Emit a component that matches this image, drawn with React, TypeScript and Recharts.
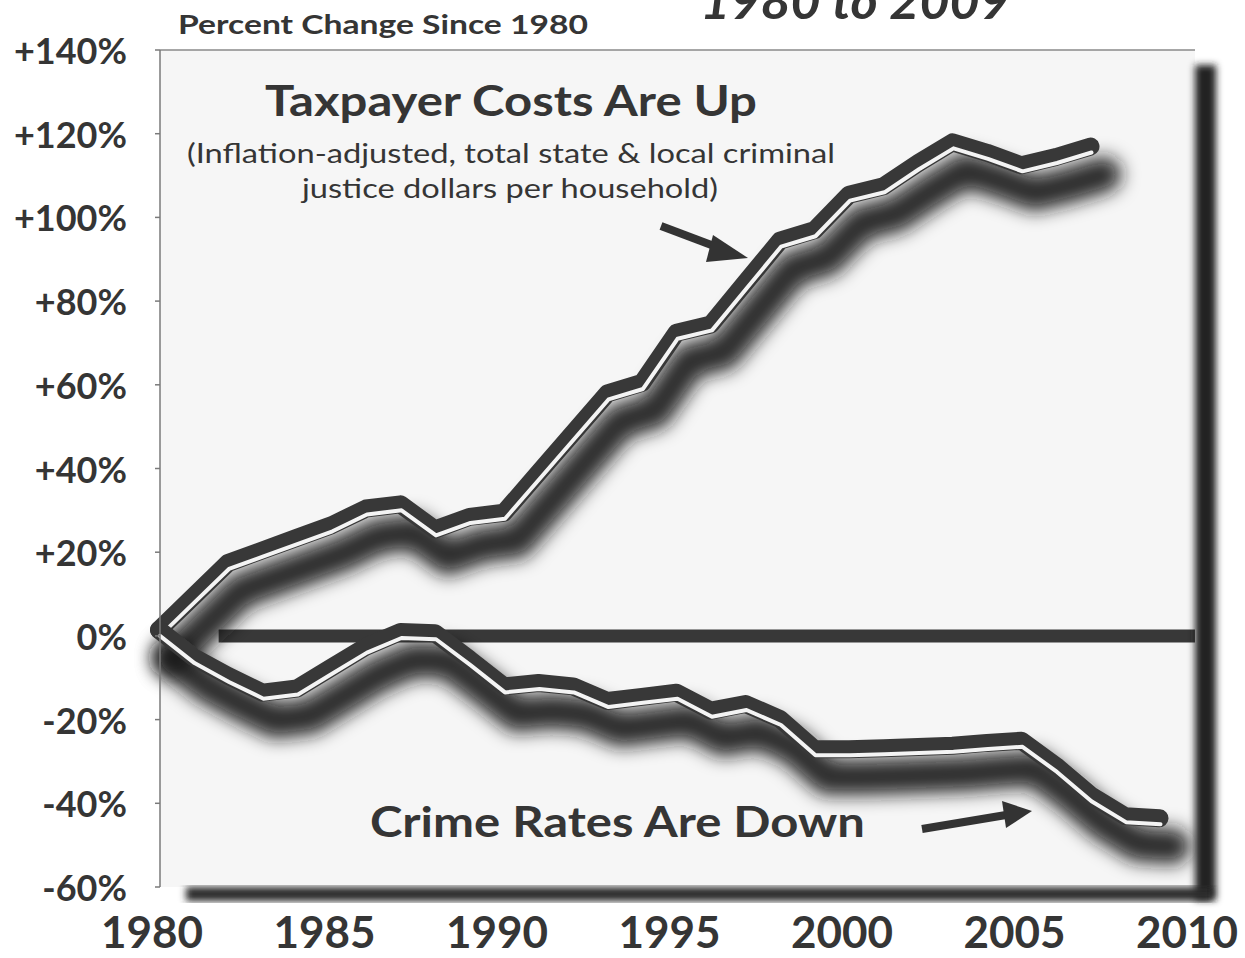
import React from "react";
import {
  LineChart,
  Line,
  XAxis,
  YAxis,
  CartesianGrid,
  ReferenceLine,
} from "recharts";

const years = [
  1980, 1981, 1982, 1983, 1984, 1985, 1986, 1987, 1988, 1989, 1990, 1991,
  1992, 1993, 1994, 1995, 1996, 1997, 1998, 1999, 2000, 2001, 2002, 2003,
  2004, 2005, 2006, 2007, 2008, 2009,
];

// taxpayer criminal justice costs, % change since 1980 (ends 2007)
const costs = [
  0, 8, 16, 19, 22, 25, 29, 30, 24, 27, 28, 37.5, 47, 56.5, 59, 71, 73, 83,
  93, 95.5, 104, 106, 111.5, 116.5, 114, 111, 113, 115.5,
];

// crime rates, % change since 1980
const crime = [
  0, -6.5, -11, -15, -14, -9, -4, -0.5, -0.8, -7, -13.5, -12.7, -13.5, -17,
  -16, -15, -19.3, -17.7, -21.3, -28.5, -28.5, -28.3, -28, -27.7, -27, -26.5,
  -32.5, -39.5, -44.5, -45,
];

const yTicks = [-60, -40, -20, 0, 20, 40, 60, 80, 100, 120, 140];
const xTicks = [1980, 1985, 1990, 1995, 2000, 2005, 2010];

const data = years.map((year, i) => ({
  year,
  cost: i < costs.length ? costs[i] : null,
  crime: crime[i],
}));

const FONT = "Lato, 'Open Sans', sans-serif";
const INK = "#353535";

const fmtPct = (v: number) => (v > 0 ? `+${v}%` : `${v}%`);

function YTick({ x, y, payload }: any) {
  return (
    <text x={x} y={y} dy={14} textAnchor="end" fill={INK} fontSize={36} fontWeight={700} fontFamily={FONT}>
      {fmtPct(payload.value)}
    </text>
  );
}

function XTick({ x, y, payload }: any) {
  return (
    <text x={x - 8} y={y + 61} textAnchor="middle" fill={INK} fontSize={44} fontWeight={700} fontFamily={FONT}>
      {payload.value}
    </text>
  );
}

function seriesLayers(key: string) {
  return [
    <Line
      key={key + "-shadow"}
      dataKey={key}
      type="linear"
      stroke="#1a1a1a"
      strokeWidth={36}
      strokeOpacity={0.9}
      strokeLinecap="round"
      strokeLinejoin="round"
      filter="url(#lineBlur)"
      transform="translate(12,22)"
      dot={false}
      activeDot={false}
      isAnimationActive={false}
    />,
    <Line
      key={key + "-band"}
      dataKey={key}
      type="linear"
      stroke="#383838"
      strokeWidth={18}
      strokeLinecap="round"
      strokeLinejoin="round"
      transform="translate(-1,-6)"
      dot={false}
      activeDot={false}
      isAnimationActive={false}
    />,
    <Line
      key={key + "-core"}
      dataKey={key}
      type="linear"
      stroke="#f4f4f4"
      strokeWidth={4}
      strokeLinecap="round"
      strokeLinejoin="round"
      dot={false}
      activeDot={false}
      isAnimationActive={false}
    />,
  ];
}

export default function App() {
  return (
    <div style={{ position: "absolute", left: 0, top: 0, width: 1245, height: 958, background: "#fff" }}>
      <LineChart
        width={1245}
        height={958}
        data={data}
        margin={{ top: 50, right: 50, bottom: 11, left: 20 }}
      >
        <defs>
          <filter id="lineBlur" x="-20%" y="-40%" width="140%" height="180%">
            <feGaussianBlur stdDeviation="9" />
          </filter>
        </defs>
        <CartesianGrid horizontal={false} vertical={false} fill="#f6f6f6" />
        <XAxis
          dataKey="year"
          type="number"
          domain={[1980, 2010]}
          ticks={xTicks}
          axisLine={false}
          tickLine={false}
          tickSize={0}
          tickMargin={0}
          height={60}
          tick={<XTick />}
          interval={0}
        />
        <YAxis
          type="number"
          domain={[-60, 140]}
          ticks={yTicks}
          width={140}
          axisLine={{ stroke: "#7a7a7a", strokeWidth: 1.5 }}
          tickLine={{ stroke: "#7a7a7a", strokeWidth: 1.5 }}
          tickSize={5}
          tickMargin={28}
          tick={<YTick />}
          interval={0}
        />
        <ReferenceLine y={140} stroke="#8a8a8a" strokeWidth={1.5} />
        <ReferenceLine
          segment={[
            { x: 1981.7, y: 0 },
            { x: 2010, y: 0 },
          ]}
          stroke="#383838"
          strokeWidth={13}
        />
        {seriesLayers("cost")}
        {seriesLayers("crime")}
      </LineChart>

      <svg
        width={1245}
        height={958}
        style={{ position: "absolute", left: 0, top: 0, pointerEvents: "none" }}
      >
        <defs>
          <filter id="edgeBlur" x="-50%" y="-10%" width="200%" height="120%">
            <feGaussianBlur stdDeviation="3.5" />
          </filter>
        </defs>
        {/* frame shadows */}
        <rect x={1195} y={65} width={21} height={835} fill="#242424" filter="url(#edgeBlur)" />
        <rect x={186} y={887} width={1026} height={14} fill="#2a2a2a" filter="url(#edgeBlur)" />

        {/* titles (the big one is cut by the top edge, as in the source) */}
        <text x={700} y={19} fill={INK} fontSize={50} fontWeight={700} fontStyle="italic" fontFamily={FONT} textLength={310} lengthAdjust="spacingAndGlyphs">
          1980 to 2009
        </text>
        <text x={178} y={34} fill={INK} fontSize={27} fontWeight={700} fontFamily={FONT} textLength={410} lengthAdjust="spacingAndGlyphs">
          Percent Change Since 1980
        </text>

        {/* annotations */}
        <text x={265} y={116} fill={INK} fontSize={42} fontWeight={700} fontFamily={FONT} textLength={492} lengthAdjust="spacingAndGlyphs">
          Taxpayer Costs Are Up
        </text>
        <text x={187} y={163} fill={INK} fontSize={27} fontFamily={FONT} textLength={648} lengthAdjust="spacingAndGlyphs">
          (Inflation-adjusted, total state &amp; local criminal
        </text>
        <text x={302} y={198} fill={INK} fontSize={27} fontFamily={FONT} textLength={416} lengthAdjust="spacingAndGlyphs">
          justice dollars per household)
        </text>
        <text x={370} y={837} fill={INK} fontSize={42} fontWeight={700} fontFamily={FONT} textLength={495} lengthAdjust="spacingAndGlyphs">
          Crime Rates Are Down
        </text>

        {/* arrows */}
        <line x1={661} y1={226} x2={722} y2={249} stroke="#333" strokeWidth={8} />
        <polygon points="748,258 713,235 706,262" fill="#333" />
        <line x1={922} y1={829} x2={1006} y2={815} stroke="#333" strokeWidth={8} />
        <polygon points="1032,811 1002,801 1006,828" fill="#333" />
      </svg>
    </div>
  );
}
